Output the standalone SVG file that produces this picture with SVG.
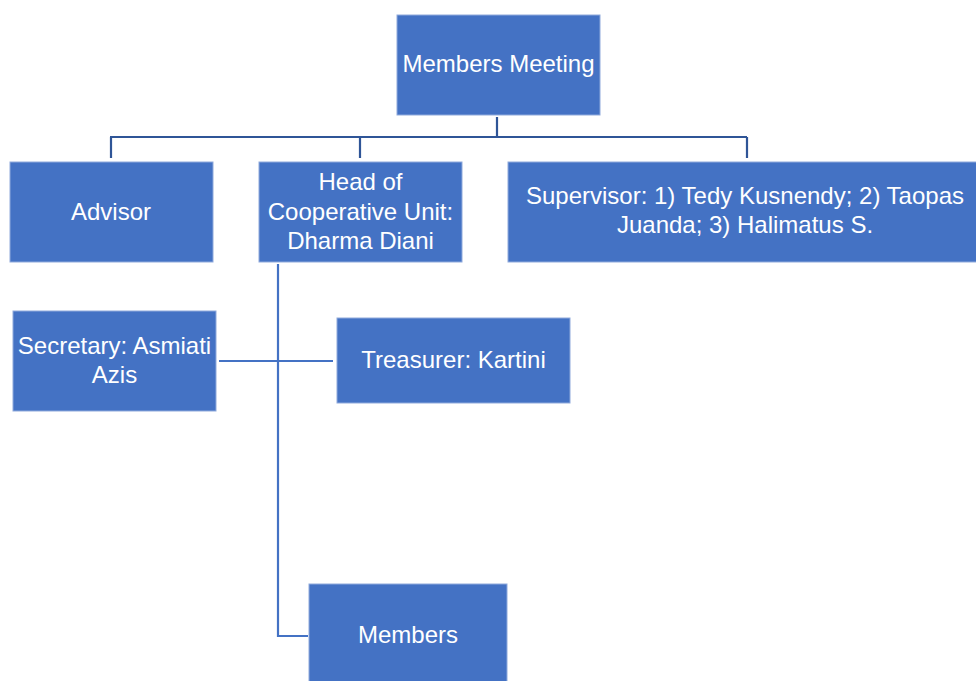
<svg xmlns="http://www.w3.org/2000/svg" width="976" height="681" viewBox="0 0 976 681">
<style>
.box{fill:#4472C4;stroke:#8FAADC;stroke-width:1}
.t{font-family:"Liberation Sans",Arial,sans-serif;font-size:24px;fill:#FFFFFF;text-anchor:middle}
.c{fill:none;stroke:#2F5597;stroke-width:2.2}
.c2{fill:none;stroke:#4472C4;stroke-width:2.2}
</style>
<rect width="976" height="681" fill="#FFFFFF"/>
<g id="connectors">
<path class="c" d="M497,117 V137 M110,137 H747 M111,137 V158 M360,137 V158 M747,137 V158"/>
<path class="c2" d="M278,264 V636 H308 M219,361 H333"/>
</g>
<g id="members-meeting">
<rect class="box" x="397" y="15" width="203" height="100"/>
<text class="t" x="498.5" y="72">Members Meeting</text>
</g>
<g id="advisor">
<rect class="box" x="10" y="162" width="203" height="100"/>
<text class="t" x="111" y="220">Advisor</text>
</g>
<g id="head">
<rect class="box" x="259" y="162" width="203" height="100"/>
<text class="t" x="360.5" y="190">Head of</text>
<text class="t" x="360.5" y="220">Cooperative Unit:</text>
<text class="t" x="360.5" y="249">Dharma Diani</text>
</g>
<g id="supervisor">
<rect class="box" x="508" y="162" width="470" height="100"/>
<text class="t" x="745" y="204">Supervisor: 1) Tedy Kusnendy; 2) Taopas</text>
<text class="t" x="745" y="233">Juanda; 3) Halimatus S.</text>
</g>
<g id="secretary">
<rect class="box" x="13" y="311" width="203" height="100"/>
<text class="t" x="114.5" y="354">Secretary: Asmiati</text>
<text class="t" x="114.5" y="383">Azis</text>
</g>
<g id="treasurer">
<rect class="box" x="337" y="318" width="233" height="85"/>
<text class="t" x="453.5" y="368">Treasurer: Kartini</text>
</g>
<g id="members">
<rect class="box" x="309" y="584" width="198" height="100"/>
<text class="t" x="408" y="643">Members</text>
</g>
</svg>
